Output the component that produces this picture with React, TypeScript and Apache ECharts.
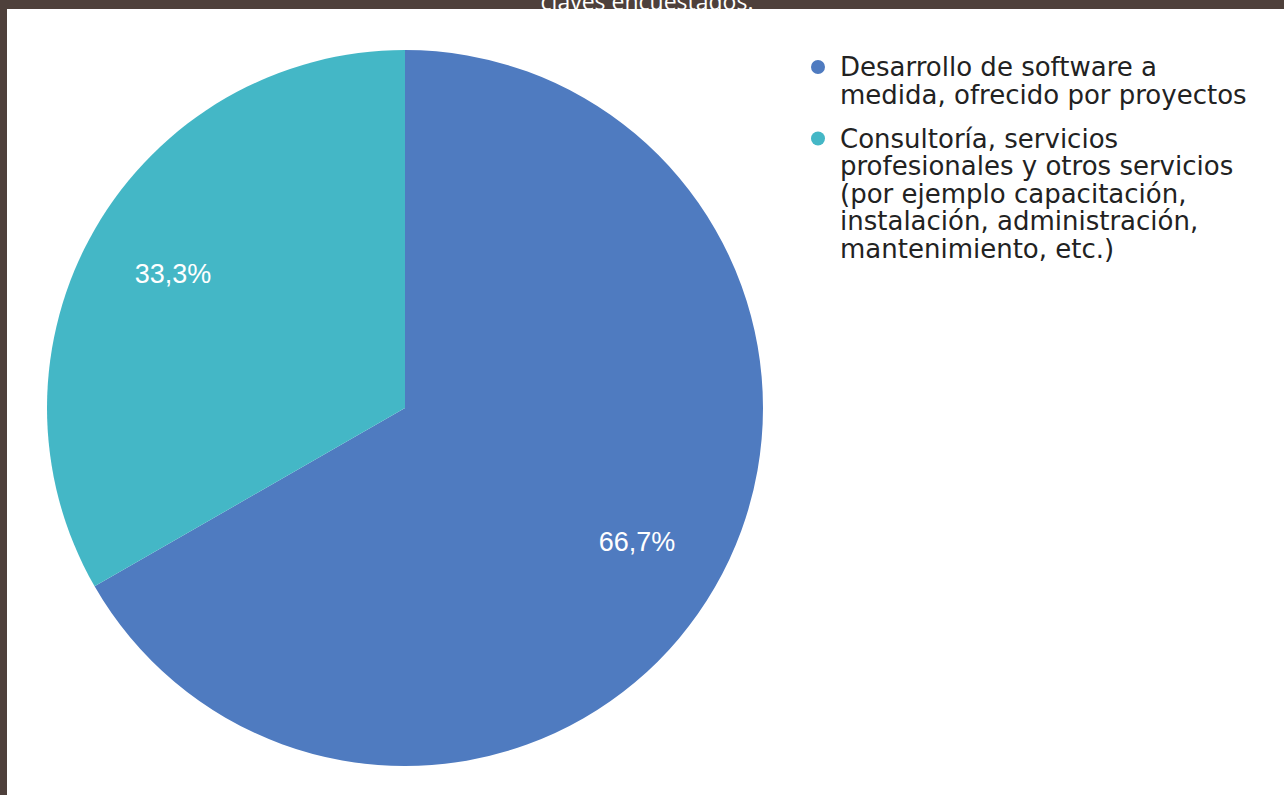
import React, { useEffect, useRef } from "react";
import * as echarts from "echarts";

const categories: string[] = [
  "Desarrollo de software a\nmedida, ofrecido por proyectos",
  "Consultoría, servicios\nprofesionales y otros servicios\n(por ejemplo capacitación,\ninstalación, administración,\nmantenimiento, etc.)",
];
const shares: number[] = [66.7, 33.3];
const colors: string[] = ["#4f7bc0", "#44b7c6"];
const headline = "claves encuestados.";

const pct = (v: number) => v.toFixed(1).replace(".", ",") + "%";

export default function App() {
  const ref = useRef<HTMLDivElement>(null);
  useEffect(() => {
    if (!ref.current) return;
    const chart = echarts.init(ref.current, null, { renderer: "svg" });
    const data = categories.map((name, i) => ({ name, value: shares[i] }));
    chart.setOption({
      animation: false,
      backgroundColor: "#ffffff",
      color: colors,
      graphic: [
        { type: "rect", shape: { x: 0, y: 0, width: 1284, height: 9 }, style: { fill: "#4e403b" }, silent: true },
        { type: "rect", shape: { x: 0, y: 0, width: 7, height: 795 }, style: { fill: "#4e403b" }, silent: true },
        {
          type: "text",
          x: 647,
          y: 12,
          silent: true,
          style: {
            text: headline,
            fill: "#ffffff",
            fontSize: 23,
            fontFamily: "Open Sans",
            align: "center",
            verticalAlign: "bottom",
          },
        },
      ],
      legend: {
        orient: "vertical",
        left: 806,
        top: 54,
        padding: 0,
        itemGap: 18,
        itemWidth: 0,
        itemHeight: 14,
        icon: "none",
        selectedMode: false,
        data: categories,
        formatter: (name: string) => {
          const idx = categories.indexOf(name);
          return name
            .split("\n")
            .map((l, i) => (i === 0 ? `{d${idx}| }{t|${l}}` : `{p| }{t|${l}}`))
            .join("\n");
        },
        textStyle: {
          color: "#222222",
          fontFamily: "DejaVu Sans",
          fontSize: 26,
          rich: {
            d0: { width: 14, height: 14, borderRadius: 7, backgroundColor: colors[0] },
            d1: { width: 14, height: 14, borderRadius: 7, backgroundColor: colors[1] },
            p: { width: 14 },
            t: {
              color: "#222222",
              fontFamily: "DejaVu Sans",
              fontSize: 26,
              lineHeight: 27.5,
              padding: [0, 0, 0, 15],
            },
          },
        },
      },
      series: [
        {
          type: "pie",
          center: [405, 408],
          radius: [0, 358],
          startAngle: 90,
          clockwise: true,
          silent: true,
          label: { show: false },
          labelLine: { show: false },
          data,
        },
        {
          type: "pie",
          center: [405, 408],
          radius: [172, 358],
          startAngle: 90,
          clockwise: true,
          silent: true,
          itemStyle: { color: "rgba(0,0,0,0)" },
          label: {
            show: true,
            position: "inside",
            formatter: (p: any) => pct(p.value),
            color: "#ffffff",
            fontSize: 27,
            fontFamily: "Liberation Sans",
          },
          labelLine: { show: false },
          data,
        },
      ],
    });
    return () => chart.dispose();
  }, []);
  return (
    <div
      ref={ref}
      style={{ position: "fixed", left: 0, top: 0, width: 1284, height: 795 }}
    />
  );
}
